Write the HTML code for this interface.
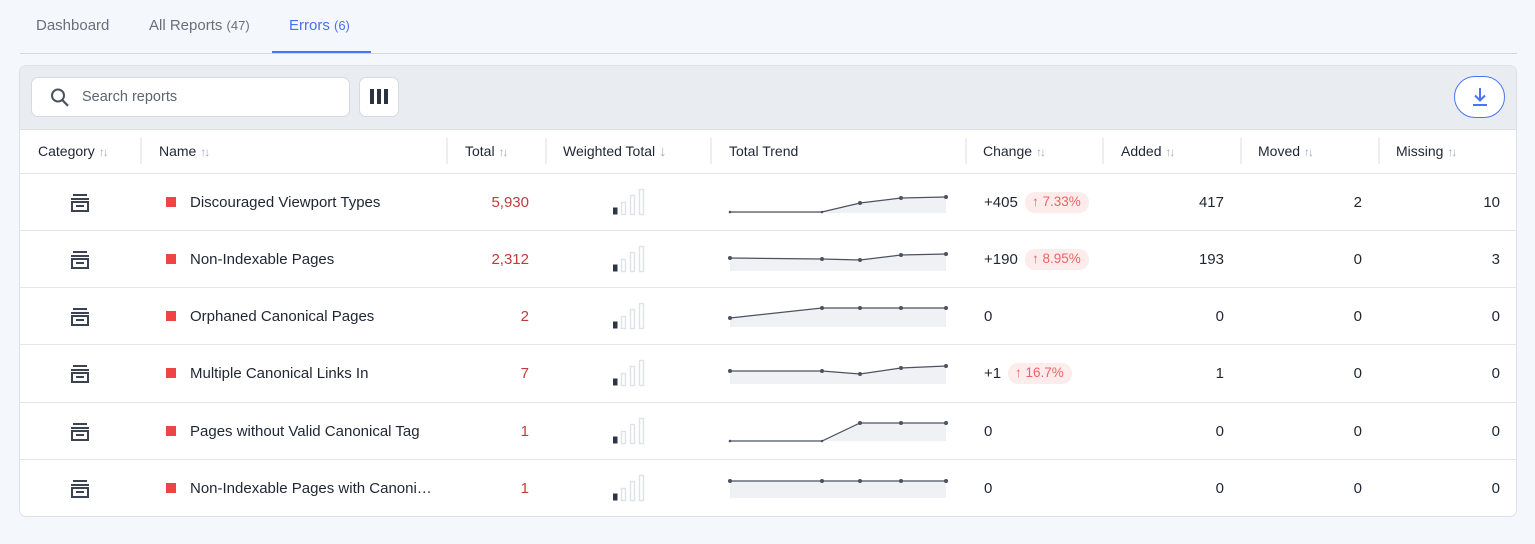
<!DOCTYPE html>
<html><head><meta charset="utf-8"><style>
*{box-sizing:border-box;margin:0;padding:0}
body{width:1535px;height:544px;background:#f4f7fc;font-family:"Liberation Sans",Arial,sans-serif;position:relative;overflow:hidden;color:#1f2633}
.a{position:absolute;white-space:nowrap}
.tab{font-size:15px;color:#6b6f78;top:17px}
.card{left:19px;top:65px;width:1498px;height:452px;background:#fff;border:1px solid #dde1e7;border-radius:7px;overflow:hidden}
.tb{left:0;top:0;width:100%;height:64px;background:#e9ecf1;border-bottom:1px solid #dde1e7}
.h{font-size:14px;color:#1f2633;top:143px}
.s{color:#a3a9b3;font-size:12px;letter-spacing:-2px}
.sep{top:138px;width:2px;height:26px;background:#eceef1}
.rl{left:20px;width:1496px;height:1px;background:#e3e5e9}
.n{font-size:15px;color:#1f2633;margin-top:1px}
.r{font-size:15px;color:#c23b3b;margin-top:1px}
.sq{width:10px;height:10px;background:#ef4444}
.pill{background:#fdecec;color:#ef6262;border-radius:10px;font-size:13.5px;padding:2px 8px 2px 7px;height:21px;margin-top:1px}
</style></head><body>
<div class="a tab" style="left:36px">Dashboard</div>
<div class="a tab" style="left:149px">All Reports <span style="font-size:13px">(47)</span></div>
<div class="a tab" style="left:289px;color:#4b6ff5">Errors <span style="font-size:13px">(6)</span></div>
<div class="a" style="left:20px;top:53px;width:1497px;height:1px;background:#d3d8e0"></div>
<div class="a" style="left:272px;top:51px;width:99px;height:2px;background:#4b73f5"></div>
<div class="a card">
 <div class="a tb"></div>
</div>
<div class="a" style="left:31px;top:77px;width:319px;height:40px;background:#fff;border:1px solid #d5d9e0;border-radius:7px"></div>
<svg class="a" style="left:48px;top:86px" width="24" height="24" viewBox="0 0 24 24"><circle cx="10" cy="9.5" r="6" fill="none" stroke="#4b5260" stroke-width="2"/><line x1="14.3" y1="14" x2="20" y2="19.8" stroke="#4b5260" stroke-width="2.2"/></svg>
<div class="a" style="left:82px;top:89px;font-size:14.5px;color:#5e6470">Search reports</div>
<div class="a" style="left:359px;top:77px;width:40px;height:40px;background:#fff;border:1px solid #d5d9e0;border-radius:7px"></div>
<div class="a" style="left:370px;top:89px;width:4px;height:15px;background:#2b3240"></div>
<div class="a" style="left:377px;top:89px;width:4px;height:15px;background:#2b3240"></div>
<div class="a" style="left:384px;top:89px;width:4px;height:15px;background:#2b3240"></div>
<div class="a" style="left:1454px;top:76px;width:51px;height:42px;background:#fff;border:1.5px solid #4b73f5;border-radius:21px"></div>
<svg class="a" style="left:1469px;top:86px" width="22" height="22" viewBox="0 0 22 22"><line x1="11" y1="2" x2="11" y2="14" stroke="#4b73f5" stroke-width="2"/><polyline points="6,9.5 11,14.5 16,9.5" fill="none" stroke="#4b73f5" stroke-width="2"/><line x1="4" y1="19" x2="18" y2="19" stroke="#4b73f5" stroke-width="2"/></svg>

<div class="a h" style="left:38px">Category <span class="s">↑↓</span></div>
<div class="a h" style="left:159px">Name <span class="s">↑↓</span></div>
<div class="a h" style="left:465px">Total <span class="s">↑↓</span></div>
<div class="a h" style="left:563px">Weighted Total <span style="color:#a3a9b3;font-size:15px">↓</span></div>
<div class="a h" style="left:729px">Total Trend</div>
<div class="a h" style="left:983px">Change <span class="s">↑↓</span></div>
<div class="a h" style="left:1121px">Added <span class="s">↑↓</span></div>
<div class="a h" style="left:1258px">Moved <span class="s">↑↓</span></div>
<div class="a h" style="left:1396px">Missing <span class="s">↑↓</span></div>
<div class="a sep" style="left:140px"></div><div class="a sep" style="left:446px"></div><div class="a sep" style="left:545px"></div><div class="a sep" style="left:710px"></div><div class="a sep" style="left:965px"></div><div class="a sep" style="left:1102px"></div><div class="a sep" style="left:1240px"></div><div class="a sep" style="left:1378px"></div>
<div class="a rl" style="top:173px"></div><div class="a rl" style="top:230px"></div><div class="a rl" style="top:287px"></div><div class="a rl" style="top:344px"></div><div class="a rl" style="top:402px"></div><div class="a rl" style="top:459px"></div>

<svg class="a" style="left:0;top:0" width="1535" height="544">
<defs>
<g id="cat"><rect x="2" y="0" width="14" height="2" fill="#3b4352"/><rect x="0" y="4" width="18" height="2" fill="#3b4352"/><rect x="1" y="8" width="16" height="9" fill="none" stroke="#3b4352" stroke-width="2"/><rect x="5" y="11" width="8" height="2" fill="#3b4352"/></g>
<g id="bars"><rect x="613" y="-7" width="4.5" height="7" fill="#2e3544"/><rect x="621.5" y="-12" width="4" height="12" fill="none" stroke="#dfe2e7" stroke-width="1.4"/><rect x="630.5" y="-19" width="4" height="19" fill="none" stroke="#dfe2e7" stroke-width="1.4"/><rect x="639.5" y="-25" width="4" height="25" fill="none" stroke="#dfe2e7" stroke-width="1.4"/></g>
</defs>
<g transform="translate(71,194)"><use href="#cat"/></g>
<g transform="translate(71,251)"><use href="#cat"/></g>
<g transform="translate(71,308)"><use href="#cat"/></g>
<g transform="translate(71,365)"><use href="#cat"/></g>
<g transform="translate(71,423)"><use href="#cat"/></g>
<g transform="translate(71,480)"><use href="#cat"/></g>
<g transform="translate(0,214.5)"><use href="#bars"/></g>
<g transform="translate(0,271.5)"><use href="#bars"/></g>
<g transform="translate(0,328.5)"><use href="#bars"/></g>
<g transform="translate(0,385.5)"><use href="#bars"/></g>
<g transform="translate(0,443.5)"><use href="#bars"/></g>
<g transform="translate(0,500.5)"><use href="#bars"/></g>
<g fill="#eff1f4" stroke="none">
<polygon points="730,212 822,212 860,203 901,198 946,197 946,213 730,213"/>
<polygon points="730,258 822,259 860,260 901,255 946,254 946,271 730,271"/>
<polygon points="730,318 822,308 860,308 901,308 946,308 946,327 730,327"/>
<polygon points="730,371 822,371 860,374 901,368 946,366 946,384 730,384"/>
<polygon points="730,441 822,441 860,423 901,423 946,423 946,441 730,441"/>
<polygon points="730,481 822,481 860,481 901,481 946,481 946,498 730,498"/>
</g>
<g fill="none" stroke="#4b5260" stroke-width="1.2">
<polyline points="730,212 822,212 860,203 901,198 946,197"/>
<polyline points="730,258 822,259 860,260 901,255 946,254"/>
<polyline points="730,318 822,308 860,308 901,308 946,308"/>
<polyline points="730,371 822,371 860,374 901,368 946,366"/>
<polyline points="730,441 822,441 860,423 901,423 946,423"/>
<polyline points="730,481 822,481 860,481 901,481 946,481"/>
</g>
<g fill="#4b5260">
<circle cx="730" cy="212" r="1.3"/><circle cx="822" cy="212" r="1.3"/><circle cx="860" cy="203" r="2"/><circle cx="901" cy="198" r="2"/><circle cx="946" cy="197" r="2"/>
<circle cx="730" cy="258" r="2"/><circle cx="822" cy="259" r="2"/><circle cx="860" cy="260" r="2"/><circle cx="901" cy="255" r="2"/><circle cx="946" cy="254" r="2"/>
<circle cx="730" cy="318" r="2"/><circle cx="822" cy="308" r="2"/><circle cx="860" cy="308" r="2"/><circle cx="901" cy="308" r="2"/><circle cx="946" cy="308" r="2"/>
<circle cx="730" cy="371" r="2"/><circle cx="822" cy="371" r="2"/><circle cx="860" cy="374" r="2"/><circle cx="901" cy="368" r="2"/><circle cx="946" cy="366" r="2"/>
<circle cx="730" cy="441" r="1.3"/><circle cx="822" cy="441" r="1.3"/><circle cx="860" cy="423" r="2"/><circle cx="901" cy="423" r="2"/><circle cx="946" cy="423" r="2"/>
<circle cx="730" cy="481" r="2"/><circle cx="822" cy="481" r="2"/><circle cx="860" cy="481" r="2"/><circle cx="901" cy="481" r="2"/><circle cx="946" cy="481" r="2"/>
</g>
</svg>

<div class="a sq" style="left:166px;top:197px"></div><div class="a n" style="left:190px;top:193px">Discouraged Viewport Types</div>
<div class="a sq" style="left:166px;top:254px"></div><div class="a n" style="left:190px;top:250px">Non-Indexable Pages</div>
<div class="a sq" style="left:166px;top:311px"></div><div class="a n" style="left:190px;top:307px">Orphaned Canonical Pages</div>
<div class="a sq" style="left:166px;top:368px"></div><div class="a n" style="left:190px;top:364px">Multiple Canonical Links In</div>
<div class="a sq" style="left:166px;top:426px"></div><div class="a n" style="left:190px;top:422px">Pages without Valid Canonical Tag</div>
<div class="a sq" style="left:166px;top:483px"></div><div class="a n" style="left:190px;top:479px">Non-Indexable Pages with Canoni…</div>

<div class="a r" style="right:1006px;top:193px">5,930</div>
<div class="a r" style="right:1006px;top:250px">2,312</div>
<div class="a r" style="right:1006px;top:307px">2</div>
<div class="a r" style="right:1006px;top:364px">7</div>
<div class="a r" style="right:1006px;top:422px">1</div>
<div class="a r" style="right:1006px;top:479px">1</div>

<div class="a n" style="left:984px;top:193px">+405</div><div class="a pill" style="left:1025px;top:191px"><b>↑</b> 7.33%</div>
<div class="a n" style="left:984px;top:250px">+190</div><div class="a pill" style="left:1025px;top:248px"><b>↑</b> 8.95%</div>
<div class="a n" style="left:984px;top:307px">0</div>
<div class="a n" style="left:984px;top:364px">+1</div><div class="a pill" style="left:1008px;top:362px"><b>↑</b> 16.7%</div>
<div class="a n" style="left:984px;top:422px">0</div>
<div class="a n" style="left:984px;top:479px">0</div>

<div class="a n" style="right:311px;top:193px">417</div><div class="a n" style="right:173px;top:193px">2</div><div class="a n" style="right:35px;top:193px">10</div>
<div class="a n" style="right:311px;top:250px">193</div><div class="a n" style="right:173px;top:250px">0</div><div class="a n" style="right:35px;top:250px">3</div>
<div class="a n" style="right:311px;top:307px">0</div><div class="a n" style="right:173px;top:307px">0</div><div class="a n" style="right:35px;top:307px">0</div>
<div class="a n" style="right:311px;top:364px">1</div><div class="a n" style="right:173px;top:364px">0</div><div class="a n" style="right:35px;top:364px">0</div>
<div class="a n" style="right:311px;top:422px">0</div><div class="a n" style="right:173px;top:422px">0</div><div class="a n" style="right:35px;top:422px">0</div>
<div class="a n" style="right:311px;top:479px">0</div><div class="a n" style="right:173px;top:479px">0</div><div class="a n" style="right:35px;top:479px">0</div>
</body></html>
